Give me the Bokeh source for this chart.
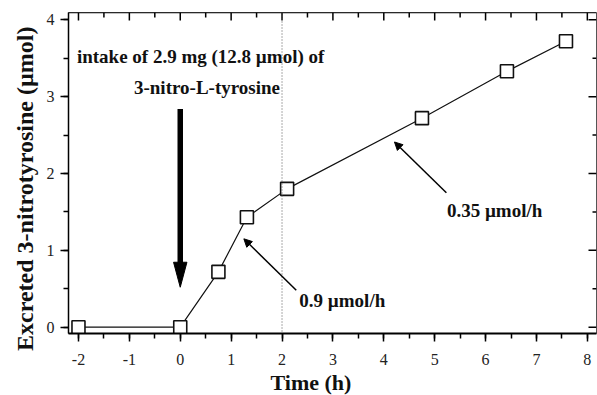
from bokeh.plotting import figure
from bokeh.models import (Range1d, SingleIntervalTicker, Label, Title,
                          Arrow, NormalHead, Span, ColumnDataSource)
from bokeh.embed import file_html
from bokeh.resources import INLINE

# ---- data ----
time_h = [-2.0, 0.0, 0.75, 1.31, 2.10, 4.75, 6.42, 7.58]
nitrotyrosine_umol = [0.0, 0.0, 0.72, 1.43, 1.80, 2.72, 3.33, 3.72]
x_ticks = [-2, -1, 0, 1, 2, 3, 4, 5, 6, 7, 8]
y_ticks = [0, 1, 2, 3, 4]
x_tick_labels = ["-2", "-1", "0", "1", "2", "3", "4", "5", "6", "7", "8"]

intake_time = [0.0]
intake_arrow_top = [2.84]
intake_arrow_tip = [0.52]
rate_labels = ["0.9 \u00b5mol/h", "0.35 \u00b5mol/h"]
rate_arrow_tail_x = [2.28, 5.23]
rate_arrow_tail_y = [0.48, 1.75]
rate_arrow_tip_x = [1.25, 4.21]
rate_arrow_tip_y = [1.15, 2.41]
rate_label_x = [2.34, 5.24]
rate_label_y = [0.35, 1.52]

SERIF = "Liberation Serif"
X_MIN, X_MAX = -2.196, 8.18
Y_MIN, Y_MAX = -0.082, 4.095
PX_X = 528 / (X_MAX - X_MIN)   # pixels per x unit
PX_Y = 321 / (Y_MAX - Y_MIN)   # pixels per y unit

p = figure(width=597, height=395,
           x_range=Range1d(X_MIN, X_MAX), y_range=Range1d(Y_MIN, Y_MAX),
           output_backend="svg", toolbar_location=None,
           min_border_left=68, min_border_right=1,
           min_border_top=12, min_border_bottom=62)
p.xgrid.visible = False
p.ygrid.visible = False
p.outline_line_color = "#555555"
p.outline_line_width = 1
p.background_fill_color = "white"
p.border_fill_color = "white"

# bottom axis
xa = p.xaxis[0]
xa.ticker = SingleIntervalTicker(interval=1, num_minor_ticks=2)
xa.major_label_overrides = {t: s for t, s in zip(x_ticks, x_tick_labels)}
xa.major_label_text_font = SERIF
xa.major_label_text_font_size = "16px"
xa.major_label_text_color = "#222222"
xa.major_label_standoff = 12
xa.axis_line_width = 2
xa.major_tick_in = 0
xa.major_tick_out = 8
xa.minor_tick_in = 0
xa.minor_tick_out = 5
xa.major_tick_line_width = 1.5
xa.minor_tick_line_width = 1.5

# left axis
ya = p.yaxis[0]
ya.ticker = SingleIntervalTicker(interval=1, num_minor_ticks=2)
ya.major_label_text_font = SERIF
ya.major_label_text_font_size = "16px"
ya.major_label_text_color = "#222222"
ya.major_label_standoff = 6
ya.axis_line_width = 1.5
ya.major_tick_in = 0
ya.major_tick_out = 8
ya.minor_tick_in = 0
ya.minor_tick_out = 5
ya.major_tick_line_width = 1.5
ya.minor_tick_line_width = 1.5

# axis titles as side titles (offset to match the reference position)
p.add_layout(Title(text="Time (h)", text_font=SERIF, text_font_style="bold",
                   text_font_size="22px", text_color="#111111",
                   align="left", offset=202, standoff=0), "below")
p.add_layout(Title(text="Excreted 3-nitrotyrosine (\u00b5mol)", text_font=SERIF,
                   text_font_style="bold", text_font_size="24px", text_color="#111111",
                   align="right", offset=14, standoff=11), "left")

# mirrored inward ticks on the top and right frame edges
x_minor = [t + 0.5 for t in x_ticks[:-1]]
y_minor = [t + 0.5 for t in y_ticks[:-1]]
p.segment(x0=x_ticks, y0=[Y_MAX] * len(x_ticks), x1=x_ticks,
          y1=[Y_MAX - 8 / PX_Y] * len(x_ticks), line_color="black", line_width=1.5)
p.segment(x0=x_minor, y0=[Y_MAX] * len(x_minor), x1=x_minor,
          y1=[Y_MAX - 5 / PX_Y] * len(x_minor), line_color="black", line_width=1.5)
p.segment(x0=[X_MAX] * len(y_ticks), y0=y_ticks, x1=[X_MAX - 8 / PX_X] * len(y_ticks),
          y1=y_ticks, line_color="black", line_width=1.5)
p.segment(x0=[X_MAX] * len(y_minor), y0=y_minor, x1=[X_MAX - 4 / PX_X] * len(y_minor),
          y1=y_minor, line_color="black", line_width=1.5)
p.add_layout(Span(location=Y_MAX, dimension="width", line_color="black", line_width=1.5))

# dotted reference line at t = 2 h
p.add_layout(Span(location=2, dimension="height", line_color="#555555",
                  line_width=1, line_dash="1 2"))

# data
src = ColumnDataSource(dict(x=time_h, y=nitrotyrosine_umol))
p.line("x", "y", source=src, line_color="#111111", line_width=1.2)
p.scatter("x", "y", source=src, marker="square", size=13,
          fill_color="white", line_color="#111111", line_width=1.6)

# big intake arrow
shaft_bottom = intake_arrow_tip[0] + 0.30
p.segment(x0=intake_time, y0=intake_arrow_top, x1=intake_time, y1=[shaft_bottom],
          line_color="black", line_width=5.5)
head_len = 25 / PX_Y
head_half = 6.7 / PX_X
p.patch(x=[intake_time[0] - head_half, intake_time[0] + head_half, intake_time[0]],
        y=[intake_arrow_tip[0] + head_len, intake_arrow_tip[0] + head_len, intake_arrow_tip[0]],
        fill_color="black", line_color="black")

p.add_layout(Label(x=-2.03, y=3.52, text="intake of 2.9 mg (12.8 \u00b5mol) of",
                   text_font=SERIF, text_font_style="bold", text_font_size="19px",
                   text_baseline="middle", text_align="left", text_color="#111111"))
p.add_layout(Label(x=0.525, y=3.116, text="3-nitro-L-tyrosine",
                   text_font=SERIF, text_font_style="bold", text_font_size="19px",
                   text_baseline="middle", text_align="center", text_color="#111111"))

# rate arrows and labels
for i in range(len(rate_labels)):
    p.add_layout(Arrow(end=NormalHead(size=8, fill_color="black", line_color="black"),
                       x_start=rate_arrow_tail_x[i], y_start=rate_arrow_tail_y[i],
                       x_end=rate_arrow_tip_x[i], y_end=rate_arrow_tip_y[i],
                       line_color="black", line_width=1.5))
    p.add_layout(Label(x=rate_label_x[i], y=rate_label_y[i], text=rate_labels[i],
                       text_font=SERIF, text_font_style="bold", text_font_size="19px",
                       text_baseline="middle", text_align="left", text_color="#111111"))

open("out.html", "w").write(file_html(p, INLINE))
